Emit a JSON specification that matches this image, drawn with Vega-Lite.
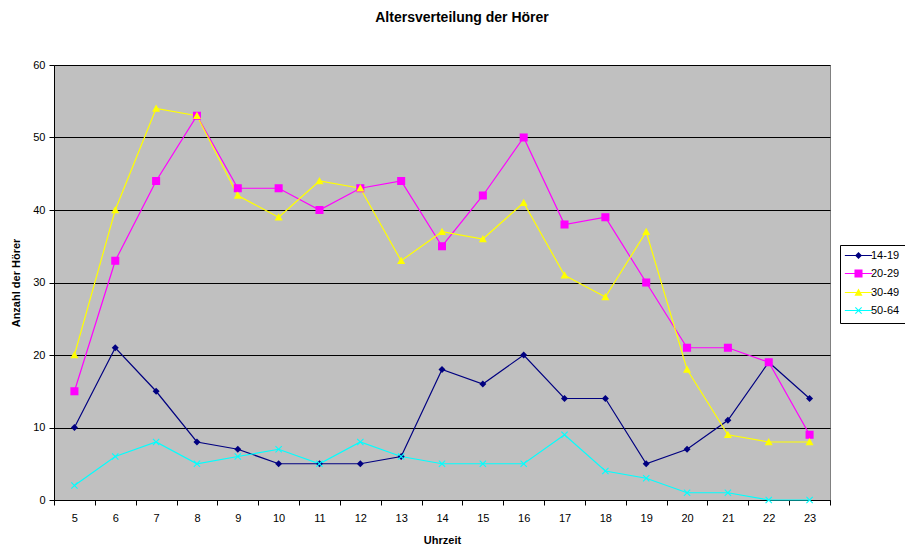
{
  "$schema": "https://vega.github.io/schema/vega-lite/v6.json",
  "width": 776,
  "height": 435,
  "autosize": {"type": "none"},
  "padding": {"left": 54, "top": 65, "right": 75, "bottom": 47},
  "background": "white",
  "title": {
    "text": "Altersverteilung der Hörer",
    "font": "Liberation Sans",
    "fontSize": 14,
    "fontWeight": "bold",
    "color": "black",
    "anchor": "middle",
    "offset": 34,
    "dx": 20
  },
  "config": {
    "font": "Liberation Sans",
    "view": {"fill": "#C0C0C0", "stroke": "#808080", "strokeWidth": 1},
    "axis": {
      "labelFont": "Liberation Sans",
      "labelFontSize": 11,
      "labelColor": "black",
      "titleFont": "Liberation Sans",
      "titleFontSize": 11,
      "titleFontWeight": "bold",
      "titleColor": "black",
      "domainColor": "black",
      "tickColor": "black",
      "tickSize": 5
    }
  },
  "data": {
    "values": [
      {"Uhrzeit": 5, "Alter": "14-19", "Anzahl": 10},
      {"Uhrzeit": 6, "Alter": "14-19", "Anzahl": 21},
      {"Uhrzeit": 7, "Alter": "14-19", "Anzahl": 15},
      {"Uhrzeit": 8, "Alter": "14-19", "Anzahl": 8},
      {"Uhrzeit": 9, "Alter": "14-19", "Anzahl": 7},
      {"Uhrzeit": 10, "Alter": "14-19", "Anzahl": 5},
      {"Uhrzeit": 11, "Alter": "14-19", "Anzahl": 5},
      {"Uhrzeit": 12, "Alter": "14-19", "Anzahl": 5},
      {"Uhrzeit": 13, "Alter": "14-19", "Anzahl": 6},
      {"Uhrzeit": 14, "Alter": "14-19", "Anzahl": 18},
      {"Uhrzeit": 15, "Alter": "14-19", "Anzahl": 16},
      {"Uhrzeit": 16, "Alter": "14-19", "Anzahl": 20},
      {"Uhrzeit": 17, "Alter": "14-19", "Anzahl": 14},
      {"Uhrzeit": 18, "Alter": "14-19", "Anzahl": 14},
      {"Uhrzeit": 19, "Alter": "14-19", "Anzahl": 5},
      {"Uhrzeit": 20, "Alter": "14-19", "Anzahl": 7},
      {"Uhrzeit": 21, "Alter": "14-19", "Anzahl": 11},
      {"Uhrzeit": 22, "Alter": "14-19", "Anzahl": 19},
      {"Uhrzeit": 23, "Alter": "14-19", "Anzahl": 14},
      {"Uhrzeit": 5, "Alter": "20-29", "Anzahl": 15},
      {"Uhrzeit": 6, "Alter": "20-29", "Anzahl": 33},
      {"Uhrzeit": 7, "Alter": "20-29", "Anzahl": 44},
      {"Uhrzeit": 8, "Alter": "20-29", "Anzahl": 53},
      {"Uhrzeit": 9, "Alter": "20-29", "Anzahl": 43},
      {"Uhrzeit": 10, "Alter": "20-29", "Anzahl": 43},
      {"Uhrzeit": 11, "Alter": "20-29", "Anzahl": 40},
      {"Uhrzeit": 12, "Alter": "20-29", "Anzahl": 43},
      {"Uhrzeit": 13, "Alter": "20-29", "Anzahl": 44},
      {"Uhrzeit": 14, "Alter": "20-29", "Anzahl": 35},
      {"Uhrzeit": 15, "Alter": "20-29", "Anzahl": 42},
      {"Uhrzeit": 16, "Alter": "20-29", "Anzahl": 50},
      {"Uhrzeit": 17, "Alter": "20-29", "Anzahl": 38},
      {"Uhrzeit": 18, "Alter": "20-29", "Anzahl": 39},
      {"Uhrzeit": 19, "Alter": "20-29", "Anzahl": 30},
      {"Uhrzeit": 20, "Alter": "20-29", "Anzahl": 21},
      {"Uhrzeit": 21, "Alter": "20-29", "Anzahl": 21},
      {"Uhrzeit": 22, "Alter": "20-29", "Anzahl": 19},
      {"Uhrzeit": 23, "Alter": "20-29", "Anzahl": 9},
      {"Uhrzeit": 5, "Alter": "30-49", "Anzahl": 20},
      {"Uhrzeit": 6, "Alter": "30-49", "Anzahl": 40},
      {"Uhrzeit": 7, "Alter": "30-49", "Anzahl": 54},
      {"Uhrzeit": 8, "Alter": "30-49", "Anzahl": 53},
      {"Uhrzeit": 9, "Alter": "30-49", "Anzahl": 42},
      {"Uhrzeit": 10, "Alter": "30-49", "Anzahl": 39},
      {"Uhrzeit": 11, "Alter": "30-49", "Anzahl": 44},
      {"Uhrzeit": 12, "Alter": "30-49", "Anzahl": 43},
      {"Uhrzeit": 13, "Alter": "30-49", "Anzahl": 33},
      {"Uhrzeit": 14, "Alter": "30-49", "Anzahl": 37},
      {"Uhrzeit": 15, "Alter": "30-49", "Anzahl": 36},
      {"Uhrzeit": 16, "Alter": "30-49", "Anzahl": 41},
      {"Uhrzeit": 17, "Alter": "30-49", "Anzahl": 31},
      {"Uhrzeit": 18, "Alter": "30-49", "Anzahl": 28},
      {"Uhrzeit": 19, "Alter": "30-49", "Anzahl": 37},
      {"Uhrzeit": 20, "Alter": "30-49", "Anzahl": 18},
      {"Uhrzeit": 21, "Alter": "30-49", "Anzahl": 9},
      {"Uhrzeit": 22, "Alter": "30-49", "Anzahl": 8},
      {"Uhrzeit": 23, "Alter": "30-49", "Anzahl": 8},
      {"Uhrzeit": 5, "Alter": "50-64", "Anzahl": 2},
      {"Uhrzeit": 6, "Alter": "50-64", "Anzahl": 6},
      {"Uhrzeit": 7, "Alter": "50-64", "Anzahl": 8},
      {"Uhrzeit": 8, "Alter": "50-64", "Anzahl": 5},
      {"Uhrzeit": 9, "Alter": "50-64", "Anzahl": 6},
      {"Uhrzeit": 10, "Alter": "50-64", "Anzahl": 7},
      {"Uhrzeit": 11, "Alter": "50-64", "Anzahl": 5},
      {"Uhrzeit": 12, "Alter": "50-64", "Anzahl": 8},
      {"Uhrzeit": 13, "Alter": "50-64", "Anzahl": 6},
      {"Uhrzeit": 14, "Alter": "50-64", "Anzahl": 5},
      {"Uhrzeit": 15, "Alter": "50-64", "Anzahl": 5},
      {"Uhrzeit": 16, "Alter": "50-64", "Anzahl": 5},
      {"Uhrzeit": 17, "Alter": "50-64", "Anzahl": 9},
      {"Uhrzeit": 18, "Alter": "50-64", "Anzahl": 4},
      {"Uhrzeit": 19, "Alter": "50-64", "Anzahl": 3},
      {"Uhrzeit": 20, "Alter": "50-64", "Anzahl": 1},
      {"Uhrzeit": 21, "Alter": "50-64", "Anzahl": 1},
      {"Uhrzeit": 22, "Alter": "50-64", "Anzahl": 0},
      {"Uhrzeit": 23, "Alter": "50-64", "Anzahl": 0}
    ]
  },
  "encoding": {
    "x": {
      "field": "Uhrzeit",
      "type": "ordinal",
      "scale": {"type": "band", "paddingInner": 0, "paddingOuter": 0},
      "axis": {
        "title": "Uhrzeit",
        "labelAngle": 0,
        "tickBand": "extent",
        "labelPadding": 7,
        "titlePadding": 11
      }
    },
    "y": {
      "field": "Anzahl",
      "type": "quantitative",
      "scale": {"domain": [0, 60], "nice": false},
      "axis": {
        "title": "Anzahl der Hörer",
        "values": [0, 10, 20, 30, 40, 50, 60],
        "grid": true,
        "gridColor": "black",
        "gridWidth": 1,
        "gridOpacity": 1,
        "labelPadding": 4,
        "titlePadding": 11
      }
    }
  },
  "layer": [
    {
      "mark": {"type": "line", "strokeWidth": 1.2},
      "encoding": {
        "color": {
          "field": "Alter",
          "type": "nominal",
          "scale": {
            "domain": ["14-19", "20-29", "30-49", "50-64"],
            "range": ["#000080", "#FF00FF", "#FFFF00", "#00FFFF"]
          },
          "legend": null
        }
      }
    },
    {
      "mark": {"type": "point", "filled": true, "opacity": 1, "size": 49},
      "encoding": {
        "color": {
          "field": "Alter",
          "type": "nominal",
          "scale": {
            "domain": ["14-19", "20-29", "30-49", "50-64"],
            "range": ["#000080", "#FF00FF", "#FFFF00", "#00FFFF"]
          },
          "legend": null
        },
        "shape": {
          "field": "Alter",
          "type": "nominal",
          "scale": {
            "domain": ["14-19", "20-29", "30-49", "50-64"],
            "range": [
              "M0,-1L1,0L0,1L-1,0Z",
              "M-1.15,-1.15H1.15V1.15H-1.15Z",
              "M0,-1.15L1.15,0.9L-1.15,0.9Z",
              "M-0.79,-1.01L1.01,0.79L0.79,1.01L-1.01,-0.79ZM-1.01,0.79L0.79,-1.01L1.01,-0.79L-0.79,1.01Z"
            ]
          },
          "legend": null
        }
      }
    },
    {
      "transform": [{"filter": "false"}],
      "mark": {"type": "point", "filled": true, "opacity": 1, "size": 49},
      "encoding": {
        "color": {
          "field": "Alter",
          "type": "nominal",
          "scale": {
            "domain": ["14-19", "20-29", "30-49", "50-64"],
            "range": ["#000080", "#FF00FF", "#FFFF00", "#00FFFF"]
          },
          "legend": {
            "orient": "none",
            "legendX": 786,
            "legendY": 180,
            "title": null,
            "strokeColor": "black",
            "fillColor": "white",
            "padding": 5,
            "rowPadding": 4,
            "symbolSize": 49,
            "symbolOffset": 8,
            "symbolOpacity": 1,
            "labelOffset": 7,
            "labelFont": "Liberation Sans",
            "labelFontSize": 11,
            "labelColor": "black"
          }
        },
        "shape": {
          "field": "Alter",
          "type": "nominal",
          "scale": {
            "domain": ["14-19", "20-29", "30-49", "50-64"],
            "range": [
              "M-3.9,-0.15H3.9V0.15H-3.9ZM0,-1L1,0L0,1L-1,0Z",
              "M-3.9,-0.15H3.9V0.15H-3.9ZM-1.15,-1.15H1.15V1.15H-1.15Z",
              "M-3.9,-0.15H3.9V0.15H-3.9ZM0,-1.15L1.15,0.9L-1.15,0.9Z",
              "M-3.9,-0.15H3.9V0.15H-3.9ZM-0.79,-1.01L1.01,0.79L0.79,1.01L-1.01,-0.79ZM-1.01,0.79L0.79,-1.01L1.01,-0.79L-0.79,1.01Z"
            ]
          },
          "legend": {
            "orient": "none",
            "legendX": 786,
            "legendY": 180,
            "title": null,
            "strokeColor": "black",
            "fillColor": "white",
            "padding": 5,
            "rowPadding": 4,
            "symbolSize": 49,
            "symbolOffset": 8,
            "symbolOpacity": 1,
            "labelOffset": 7,
            "labelFont": "Liberation Sans",
            "labelFontSize": 11,
            "labelColor": "black"
          }
        }
      }
    }
  ],
  "resolve": {"scale": {"shape": "independent", "color": "independent"}}
}
